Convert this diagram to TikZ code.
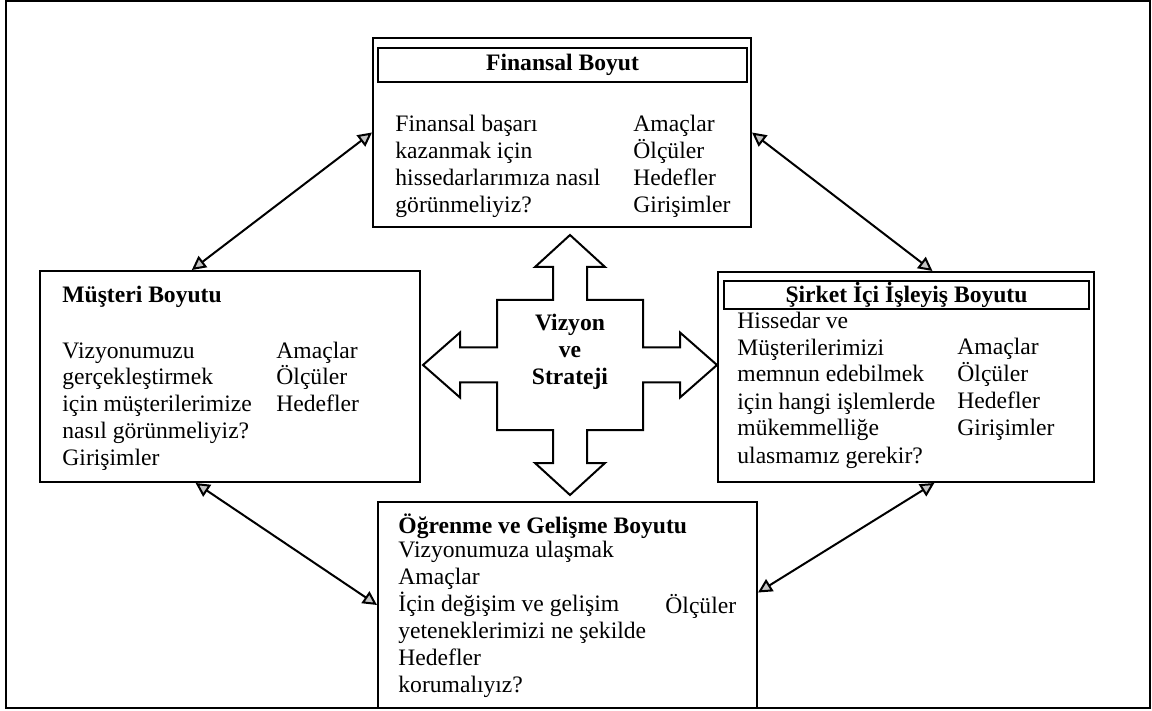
\documentclass[tikz,border=0pt]{standalone}
\usepackage{fontspec}
\setmainfont{Liberation Serif}
\usepackage{xcolor}
\usepackage{tikz}
\usetikzlibrary{positioning, arrows.meta, calc}
\definecolor{tipgray}{HTML}{C4C4C4}
\newcommand{\boyutfont}{\fontsize{11.8}{13.5}\selectfont}

\tikzset{
    box/.style={draw, line width=1pt, inner sep=0pt},
    titlebox/.style={draw, line width=0.8pt, inner sep=0pt, font=\boyutfont\bfseries},
    body/.style={inner sep=0pt, align=left, anchor=base west, font=\boyutfont},
    boldbody/.style={body, font=\boyutfont\bfseries},
    link/.style={{Triangle[length=7pt, width=7pt, fill=tipgray]}-{Triangle[length=7pt, width=7pt, fill=tipgray]},
                 line width=1pt},
    cross/.style={draw, line width=1pt, line join=miter}
}

\begin{document}
\begin{tikzpicture}[x=0.5pt, y=-0.5pt]
    \useasboundingbox (0,0) rectangle (1152,711);
    \draw[line width=1pt] (6,1) rectangle (1150,708);

    % text nodes sit on the baseline of their last line
    \node[box, minimum width=189pt, minimum height=94.5pt] (fin) at (562,132.5) {};
    \node[titlebox, minimum width=184.5pt, minimum height=17pt] (fintitle) at (562.5,65) {Finansal Boyut};
    \node[body] (finq) at (395,213) {Finansal başarı\\kazanmak için\\hissedarlarımıza nasıl\\görünmeliyiz?};
    \node[body] (fink) at (633,213) {Amaçlar\\Ölçüler\\Hedefler\\Girişimler};

    \node[box, minimum width=190pt, minimum height=105.5pt] (must) at (230,376.5) {};
    \node[boldbody] (musttitle) at (62,303) {Müşteri Boyutu};
    \node[body] (mustq) at (62,466) {Vizyonumuzu\\gerçekleştirmek\\için müşterilerimize\\nasıl görünmeliyiz?\\Girişimler};
    \node[body] (mustk) at (276,412) {Amaçlar\\Ölçüler\\Hedefler};

    \node[box, minimum width=188pt, minimum height=105pt] (sirket) at (906,377) {};
    \node[titlebox, minimum width=182.5pt, minimum height=14pt] (sirkettitle) at (906.5,295) {Şirket İçi İşleyiş Boyutu};
    \node[body] (sirketq) at (737,463) {Hissedar ve\\Müşterilerimizi\\memnun edebilmek\\için hangi işlemlerde\\mükemmelliğe\\ulasmamız gerekir?};
    \node[body] (sirketk) at (957,436) {Amaçlar\\Ölçüler\\Hedefler\\Girişimler};

    \node[box, minimum width=189.5pt, minimum height=103pt] (ogr) at (567.5,605) {};
    \node[boldbody] (ogrtitle) at (398,533) {Öğrenme ve Gelişme Boyutu};
    \node[body] (ogrq) at (398,692) {Vizyonumuza ulaşmak\\Amaçlar\\İçin değişim ve gelişim\\yeteneklerimizi ne şekilde\\Hedefler\\korumalıyız?};
    \node[body] (ogrk) at (665,613) {Ölçüler};

    \coordinate (core) at (570,365);
    \path[cross, shift={(core)}] (0,-130) -- (35,-98) -- (17,-98) -- (17,-65) -- (73,-65) -- (73,-17.5)
        -- (110,-17.5) -- (110,-32.5) -- (147,0) -- (110,32.5) -- (110,17.5) -- (73,17.5) -- (73,65)
        -- (17,65) -- (17,98) -- (35,98) -- (0,130) -- (-35,98) -- (-17,98) -- (-17,65) -- (-73,65)
        -- (-73,17.5) -- (-110,17.5) -- (-110,32.5) -- (-147,0) -- (-110,-32.5) -- (-110,-17.5)
        -- (-73,-17.5) -- (-73,-65) -- (-17,-65) -- (-17,-98) -- (-35,-98) -- cycle;
    \node[boldbody, align=center, anchor=center] (vis) at (570,352) {Vizyon\\ve\\Strateji};

    \draw[link] ($(must.north west)!0.4!(must.north east)$) -- (fin.west);
    \draw[link] (fin.east) -- ($(sirket.north west)!0.57!(sirket.north east)$);
    \draw[link] ($(must.south west)!0.41!(must.south east)$) -- (ogr.west);
    \draw[link] ($(sirket.south west)!0.575!(sirket.south east)$) -- ($(ogr.north east)!0.44!(ogr.south east)$);
\end{tikzpicture}
\end{document}
